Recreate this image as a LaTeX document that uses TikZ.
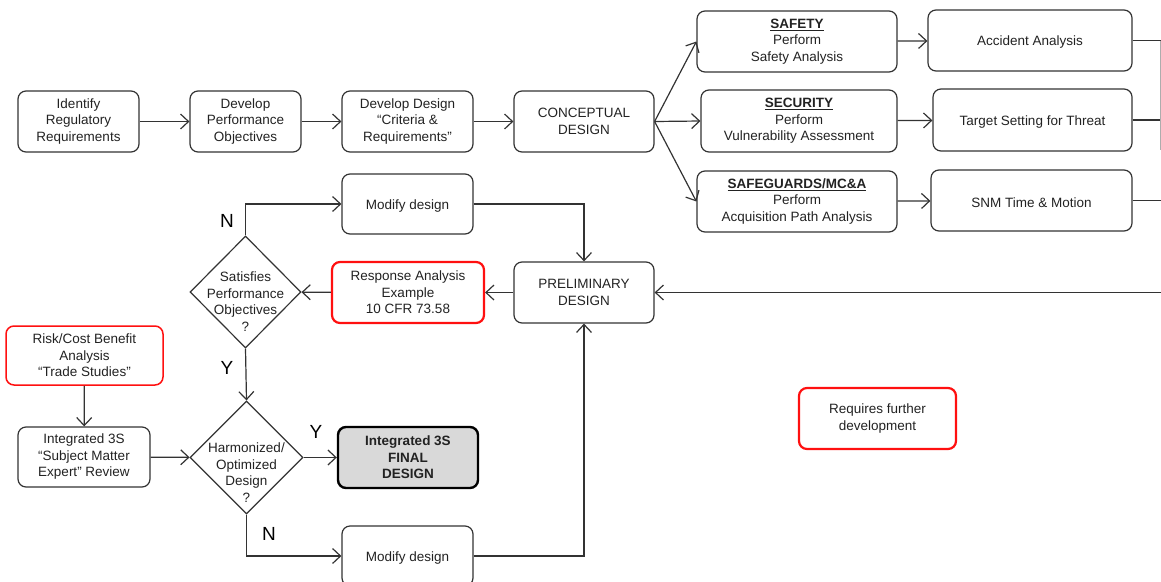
\documentclass[tikz,border=0pt]{standalone}
\usepackage{fontspec}
\setmainfont{Liberation Sans}
\usetikzlibrary{arrows.meta,shapes.geometric}
\definecolor{boxc}{HTML}{333333}
\definecolor{txtc}{HTML}{222222}
\definecolor{redc}{HTML}{FF1010}
\definecolor{finalfill}{HTML}{D9D9D9}
\newcommand{\fs}{\fontsize{13.5}{16.5}\selectfont}
\begin{document}
\begin{tikzpicture}[x=1pt,y=-1pt,
  box/.style={draw=boxc, line width=1.2pt, rounded corners=8pt, align=center, font=\fs, text=txtc, inner sep=0pt,
    execute at begin node={\rule{0pt}{13.5pt}}},
  redbox/.style={box, draw=redc, line width=1.5pt},
  redthick/.style={box, draw=redc, line width=2.2pt},
  finalbox/.style={box, draw=black, line width=2.4pt, fill=finalfill, font=\fs\bfseries},
  dia/.style={diamond, draw=boxc, line width=1.2pt, inner sep=0pt},
  dtext/.style={align=center, font=\fs, text=txtc, inner sep=0pt},
  yn/.style={font=\fontsize{19}{22}\selectfont, text=black, inner sep=0pt},
  arr/.style={draw=boxc, line width=1.2pt, -{Straight Barb[length=8pt,width=15pt,line width=1.2pt]}},
  ln/.style={draw=boxc, line width=1.2pt}
]
\useasboundingbox (0,0) rectangle (1161,581);

% top row
\node[box, minimum width=121, minimum height=61] (ident) at (78.5,121.5) {Identify\\Regulatory\\Requirements};
\node[box, minimum width=111, minimum height=61] (perf) at (245.5,121.5) {Develop\\Performance\\Objectives};
\node[box, minimum width=131, minimum height=61] (crit) at (407.5,121.5) {Develop Design\\“Criteria \&\\Requirements”};
\node[box, minimum width=140, minimum height=61] (concept) at (584,121.5) {CONCEPTUAL\\DESIGN};

\node[box, minimum width=200, minimum height=61] (safety) at (797,41.5) {\underline{\textbf{SAFETY}}\\Perform\\Safety Analysis};
\node[box, minimum width=196, minimum height=62] (security) at (799,121) {\underline{\textbf{SECURITY}}\\Perform\\Vulnerability Assessment};
\node[box, minimum width=200, minimum height=61] (safeg) at (797,201.5) {\underline{\textbf{SAFEGUARDS/MC\&A}}\\Perform\\Acquisition Path Analysis};

\node[box, minimum width=204, minimum height=61] (accident) at (1030,40.5) {Accident Analysis};
\node[box, minimum width=199, minimum height=62] (target) at (1032.5,120) {Target Setting for Threat};
\node[box, minimum width=201, minimum height=61] (snm) at (1031.5,200.5) {SNM Time \& Motion};

% middle
\node[box, minimum width=131, minimum height=60] (mod1) at (407.5,204) {Modify design};
\node[box, minimum width=140, minimum height=61] (prelim) at (584,292.5) {PRELIMINARY\\DESIGN};
\node[redthick, minimum width=152, minimum height=61] (resp) at (408,292.5) {Response Analysis\\Example\\10 CFR 73.58};
\node[dia, minimum width=111, minimum height=112] (sat) at (245.5,292) {};
\node[dtext] (sattext) at (245.5,301.5) {Satisfies\\Performance\\Objectives\\?};

% bottom
\node[redbox, minimum width=157, minimum height=59] (risk) at (84.5,355.5) {Risk/Cost Benefit\\Analysis\\“Trade Studies”};
\node[box, minimum width=132, minimum height=60] (sme) at (84,457) {Integrated 3S\\“Subject Matter\\Expert” Review};
\node[dia, minimum width=113, minimum height=113] (harm) at (246.5,457.5) {};
\node[dtext] (harmtext) at (246.5,472.5) {Harmonized/\\Optimized\\Design\\?};
\node[finalbox, minimum width=140, minimum height=61] (final) at (408,457.5) {Integrated 3S\\FINAL\\DESIGN};
\node[box, minimum width=131, minimum height=60] (mod2) at (407.5,556) {Modify design};

\node[redthick, minimum width=157, minimum height=61] (req) at (877.5,418.5) {Requires further\\development};

% right edge coordinates
\coordinate (e1) at (1161,40.5);
\coordinate (e2) at (1161,120);
\coordinate (e3) at (1161,200.5);
\coordinate (e4) at (1161,292.5);
\coordinate (ev) at (1160,40.5);

% connectors top
\draw[arr] (ident) -- (perf);
\draw[arr] (perf) -- (crit);
\draw[arr] (crit) -- (concept);
\draw[arr] (concept.east) -- (safety.west);
\draw[arr] (concept.east) -- (security.west);
\draw[arr] (concept.east) -- (safeg.west);
\draw[arr] (safety) -- (accident);
\draw[arr] (security) -- (target);
\draw[arr] (safeg) -- (snm);
\draw[ln] (accident.east) -- (e1);
\draw[ln] (target.east) -- (e2);
\draw[ln] (snm.east) -- (e3);
\draw[draw=boxc!40, line width=1pt] (ev) -- (1160,150);
\draw[arr] (e4) -- (prelim.east);

% middle connectors
\draw[arr] (prelim) -- (resp);
\draw[arr] (resp) -- (sat);
\draw[arr] (sat.north) |- (mod1.west);
\draw[arr] (mod1.east) -| (prelim.north);
\draw[arr] (sat.south) -- (harm.north);
\draw[arr] (risk) -- (sme);
\draw[arr] (sme) -- (harm);
\draw[arr] (harm) -- (final);
\draw[arr] (harm.south) |- (mod2.west);
\draw[arr] (mod2.east) -| (prelim.south);

% labels
\node[yn] (n1) at (227,221) {N};
\node[yn] (y1) at (227,368) {Y};
\node[yn] (y2) at (316,432) {Y};
\node[yn] (n2) at (269,534) {N};
\end{tikzpicture}
\end{document}
